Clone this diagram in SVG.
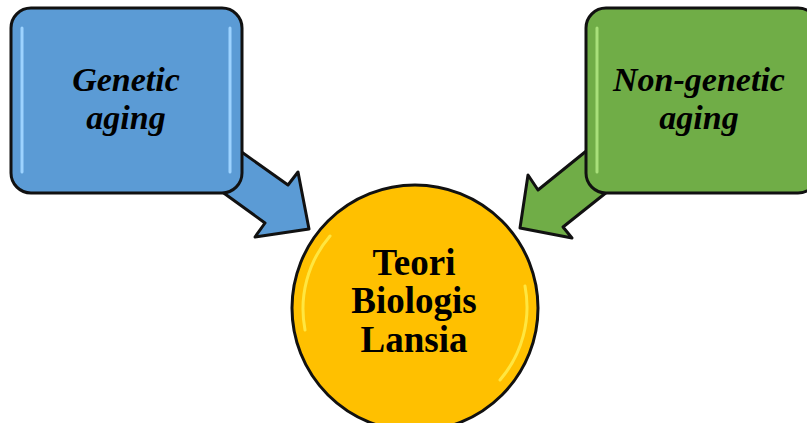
<svg xmlns="http://www.w3.org/2000/svg" width="807" height="423" viewBox="0 0 807 423">
  <style>
    .outline { stroke: #111; stroke-width: 3; stroke-linejoin: round; }
    .blue { fill: #5B9BD5; }
    .green { fill: #70AD47; }
    .gold { fill: #FFC000; }
    .hl-blue { stroke: #9DD3FF; stroke-width: 3; stroke-linecap: round; fill: none; }
    .hl-green { stroke: #A8E07A; stroke-width: 3; stroke-linecap: round; fill: none; }
    .label-i { font-family: "Liberation Serif", "Times New Roman", serif; font-weight: bold; font-style: italic; font-size: 34px; fill: #000; text-anchor: middle; }
    .label-b { font-family: "Liberation Serif", "Times New Roman", serif; font-weight: bold; font-size: 37px; fill: #000; text-anchor: middle; }
  </style>
  <rect width="807" height="423" fill="#FFFFFF"/>
  <g id="connectors">
    <polygon class="blue outline" points="236,148 288,185 298,172 309,229 255,237 265,223 214,186"/>
    <polygon class="green outline" points="590,148 538,190 528,175 520,228 572,238 563,227 612,188"/>
  </g>
  <g id="genetic">
    <rect class="blue outline" x="11" y="8" width="231" height="185" rx="20"/>
    <line class="hl-blue" x1="22" y1="28" x2="22" y2="172"/>
    <line class="hl-blue" x1="230" y1="28" x2="230" y2="172"/>
    <text class="label-i" x="126" y="91">Genetic</text>
    <text class="label-i" x="126" y="129">aging</text>
  </g>
  <g id="nongenetic">
    <rect class="green outline" x="586" y="8" width="232" height="185" rx="20"/>
    <line class="hl-green" x1="597" y1="28" x2="597" y2="172"/>
    <text class="label-i" x="699" y="91">Non-genetic</text>
    <text class="label-i" x="699" y="129">aging</text>
  </g>
  <g id="teori">
    <circle class="gold outline" cx="415" cy="308" r="123"/>
    <path d="M 305,330 A 112,112 0 0 1 330,236" stroke="#FFE640" stroke-width="3" fill="none" stroke-linecap="round"/>
    <path d="M 525,286 A 112,112 0 0 1 500,380" stroke="#FFE640" stroke-width="3" fill="none" stroke-linecap="round"/>
    <text class="label-b" x="414" y="275">Teori</text>
    <text class="label-b" x="414" y="313">Biologis</text>
    <text class="label-b" x="414" y="352">Lansia</text>
  </g>
</svg>
